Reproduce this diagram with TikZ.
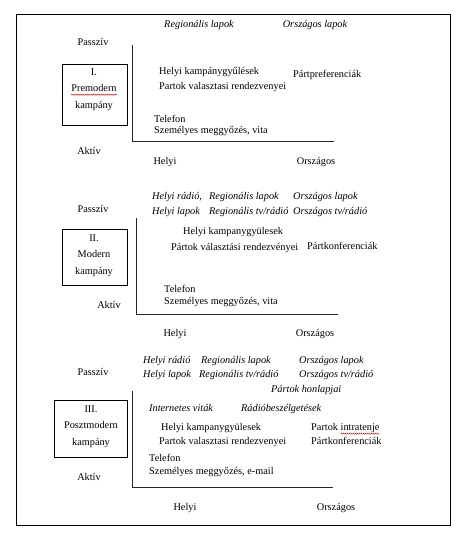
\documentclass[tikz,border=0pt]{standalone}
\usepackage{fontspec}
\setmainfont{Liberation Serif}
\usetikzlibrary{decorations.pathmorphing}
\begin{document}
\begin{tikzpicture}[x=1pt,y=-1pt,
  every node/.style={inner sep=0pt,font=\fontsize{10.3}{12}\selectfont},
  lt/.style={anchor=west,text height=7pt,text depth=2pt},
  ct/.style={anchor=center,text height=7pt,text depth=2pt},
  it/.style={font=\fontsize{10.3}{12}\selectfont\itshape},
  campbox/.style={draw,line width=0.8pt,minimum width=#1,anchor=north west},
  axis/.style={line width=0.9pt,draw=black!85},
  spell/.style={draw=red,line width=0.4pt,decorate,decoration={snake,amplitude=0.6pt,segment length=2pt}}]
\useasboundingbox (0,0) rectangle (461,536);
\draw[line width=0.9pt] (16,14) rectangle (450,525);

% ---------- Section I ----------
\node[ct,it] (r1reg) at (199,25) {Regionális lapok};
\node[ct,it] (r1orsz) at (315,25) {Országos lapok};
\node[ct] (r1pas) at (93,43) {Passzív};
\node[campbox=65pt,minimum height=61pt] (box1) at (62,64) {};
\node[ct] (b1a) at (94,73) {I.};
\node[ct] (b1b) at (94,89) {Premodern};
\node[ct] (b1c) at (94,106) {kampány};
\draw[spell] ([yshift=-1pt]b1b.south west) -- ([yshift=-1pt]b1b.south east);
\coordinate (ax1t) at (132,45);
\coordinate (ax1c) at (132,141);
\coordinate (ax1r) at (334,141);
\draw[axis] (ax1t) -- (ax1c) -- (ax1r);
\node[lt] (s1a) at (159,72) {Helyi kampánygyűlések};
\node[lt] (s1b) at (159,87) {Partok valasztasi rendezvenyei};
\node[lt] (s1c) at (293,75) {Pártpreferenciák};
\node[lt] (s1d) at (154,120) {Telefon};
\node[lt] (s1e) at (154,131) {Személyes meggyőzés, vita};
\node[ct] (r1akt) at (89,152) {Aktív};
\node[ct] (r1h) at (165,162) {Helyi};
\node[ct] (r1o) at (316,162) {Országos};

% ---------- Section II ----------
\node[lt,it] (m2a) at (152,197) {Helyi rádió,};
\node[lt,it] (m2b) at (152,212) {Helyi lapok};
\node[lt,it] (m2c) at (209,197) {Regionális lapok};
\node[lt,it] (m2d) at (209,212) {Regionális tv/rádió};
\node[lt,it] (m2e) at (293,197) {Országos lapok};
\node[lt,it] (m2f) at (293,212) {Országos tv/rádió};
\node[ct] (r2pas) at (93,210) {Passzív};
\node[campbox=65pt,minimum height=56pt] (box2) at (62,229) {};
\node[ct] (b2a) at (94,239) {II.};
\node[ct] (b2b) at (94,255) {Modern};
\node[ct] (b2c) at (94,272) {kampány};
\coordinate (ax2t) at (136,218);
\coordinate (ax2c) at (136,314);
\coordinate (ax2r) at (338,314);
\draw[axis] (ax2t) -- (ax2c) -- (ax2r);
\node[lt] (s2a) at (183,232) {Helyi kampanygyülesek};
\node[lt] (s2b) at (171,248) {Pártok választási rendezvényei};
\node[lt] (s2c) at (307,247) {Pártkonferenciák};
\node[lt] (s2d) at (164,290) {Telefon};
\node[lt] (s2e) at (164,302) {Személyes meggyőzés, vita};
\node[ct] (r2akt) at (109,306) {Aktív};
\node[ct] (r2h) at (175,334) {Helyi};
\node[ct] (r2o) at (315,334) {Országos};

% ---------- Section III ----------
\node[lt,it] (m3a) at (143,361) {Helyi rádió};
\node[lt,it] (m3b) at (143,375) {Helyi lapok};
\node[lt,it] (m3c) at (201,361) {Regionális lapok};
\node[lt,it] (m3d) at (199,375) {Regionális tv/rádió};
\node[lt,it] (m3e) at (299,361) {Országos lapok};
\node[lt,it] (m3f) at (299,375) {Országos tv/rádió};
\node[lt,it] (m3g) at (271,390) {Pártok honlapjai};
\node[ct] (r3pas) at (93,373) {Passzív};
\node[campbox=73pt,minimum height=57pt] (box3) at (54,400) {};
\node[ct] (b3a) at (91,410) {III.};
\node[ct] (b3b) at (91,426) {Posztmodern};
\node[ct] (b3c) at (91,443) {kampány};
\coordinate (ax3t) at (132,391);
\coordinate (ax3c) at (132,487);
\coordinate (ax3r) at (333,487);
\draw[axis] (ax3t) -- (ax3c) -- (ax3r);
\node[lt,it] (s3a) at (149,409) {Internetes viták};
\node[lt,it] (s3b) at (241,409) {Rádióbeszélgetések};
\node[lt] (s3c) at (161,428) {Helyi kampanygyülesek};
\node[lt] (s3d) at (159,442) {Partok valasztasi rendezvenyei};
\node[lt] (s3e) at (311,428) {Partok intratenje};
\node[lt] (s3f) at (311,442) {Pártkonferenciák};
\node[lt] (s3g) at (149,459) {Telefon};
\node[lt] (s3h) at (149,472) {Személyes meggyőzés, e-mail};
\node[ct] (r3akt) at (89,478) {Aktív};
\node[ct] (r3h) at (185,508) {Helyi};
\node[ct] (r3o) at (336,508) {Országos};
\draw[spell] ([xshift=-39pt,yshift=-1pt]s3e.south east) -- ([yshift=-1pt]s3e.south east);
\end{tikzpicture}
\end{document}
